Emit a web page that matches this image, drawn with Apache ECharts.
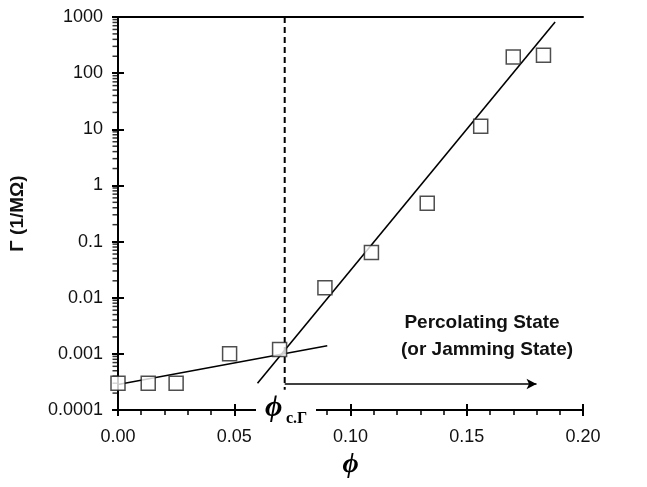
<!DOCTYPE html>
<html>
<head>
<meta charset="utf-8">
<script src="https://cdn.jsdelivr.net/npm/echarts@6/dist/echarts.min.js"></script>
<style>
html, body { margin: 0; background: #fff; }
#chart { width: 647px; height: 487px; }
</style>
</head>
<body>
<div id="chart"></div>
<script>
// measured points (phi, conductance)
const phi = [0, 0.013, 0.025, 0.048, 0.0695, 0.089, 0.109, 0.133, 0.156, 0.170, 0.183];
const gamma = [0.0003, 0.0003, 0.0003, 0.001, 0.0012, 0.015, 0.064, 0.48, 11.3, 193, 209];
// fit lines, end points
const lowFitX = [0, 0.090];
const lowFitY = [0.000285, 0.00139];
const highFitX = [0.060, 0.188];
const highFitY = [0.0003, 813];
// threshold + arrow
const phiC = 0.0717;
const dashY = [1000, 0.00023];
const arrowX = [0.0717, 0.180];
const arrowY = 0.00029;
const yTickLabels = ['0.0001', '0.001', '0.01', '0.1', '1', '10', '100', '1000'];

let chart = echarts.init(document.getElementById('chart'));

// log minor ticks 2..9 per decade
let minorTicks = [];
for (let e = -4; e < 3; e++) {
	for (let k = 2; k <= 9; k++) minorTicks.push([0, k * Math.pow(10, e)]);
}

const pts = phi.map((x, i) => [x, gamma[i]]);
const font = 'Arial, "Liberation Sans", sans-serif';
const serif = '"Times New Roman", "Liberation Serif", "DejaVu Serif", serif';

let option = {
	animation: false,
	grid: { left: 117, right: 64, top: 17, bottom: 77 },
	xAxis: [
		{
			type: 'value', min: 0, max: 0.2, interval: 0.05,
			name: '\u03d5', nameLocation: 'middle', nameGap: 36,
			nameTextStyle: { fontFamily: serif, fontStyle: 'italic', fontWeight: 'bold', fontSize: 28, color: '#000' },
			axisLine: { lineStyle: { color: '#000', width: 2 } },
			axisTick: { show: true, length: 6, lineStyle: { color: '#000', width: 2 } },
			minorTick: { show: true, splitNumber: 5, length: 5, lineStyle: { color: '#000', width: 1.5 } },
			axisLabel: { margin: 18, fontFamily: font, fontSize: 18, color: '#111', formatter: v => v.toFixed(2) },
			splitLine: { show: false }
		},
		{ // inside half of the major ticks
			type: 'value', min: 0, max: 0.2, interval: 0.05, position: 'bottom',
			axisLine: { show: false },
			axisTick: { show: true, inside: true, length: 6, lineStyle: { color: '#000', width: 2 } },
			axisLabel: { show: false }, splitLine: { show: false }
		},
		{ // top frame
			type: 'value', min: 0, max: 0.2, position: 'top',
			axisLine: { lineStyle: { color: '#000', width: 2 } },
			axisTick: { show: false }, axisLabel: { show: false }, splitLine: { show: false }
		}
	],
	yAxis: [
		{
			type: 'log', logBase: 10, min: 0.0001, max: 1000, interval: 1,
			name: 'Γ (1/MΩ)', nameLocation: 'middle', nameGap: 91,
			nameTextStyle: { fontFamily: font, fontWeight: 'bold', fontSize: 19, color: '#111' },
			axisLine: { lineStyle: { color: '#000', width: 2 } },
			axisTick: { show: true, length: 6, lineStyle: { color: '#000', width: 2 } },
			axisLabel: {
				margin: 15, fontFamily: font, fontSize: 18, color: '#111',
				formatter: v => yTickLabels[Math.round(Math.log10(v)) + 4]
			},
			splitLine: { show: false }
		},
		{
			type: 'log', logBase: 10, min: 0.0001, max: 1000, interval: 1, position: 'left',
			axisLine: { show: false },
			axisTick: { show: true, inside: true, length: 6, lineStyle: { color: '#000', width: 2 } },
			axisLabel: { show: false }, splitLine: { show: false }
		},
		{ // right frame
			type: 'log', logBase: 10, min: 0.0001, max: 1000, position: 'right',
			axisLine: { lineStyle: { color: '#000', width: 2 } },
			axisTick: { show: false }, axisLabel: { show: false }, splitLine: { show: false }
		}
	],
	series: [
		{
			type: 'scatter', data: minorTicks, clip: false, silent: true,
			symbol: 'rect', symbolSize: [5, 1.5], symbolOffset: [-3, 0],
			itemStyle: { color: '#000' }, z: 1
		},
		{
			type: 'line', data: lowFitX.map((x, i) => [x, lowFitY[i]]),
			symbol: 'none', lineStyle: { color: '#000', width: 1.6 }, z: 2
		},
		{
			type: 'line', data: highFitX.map((x, i) => [x, highFitY[i]]),
			symbol: 'none', lineStyle: { color: '#000', width: 1.6 }, z: 2
		},
		{
			type: 'line', data: dashY.map(y => [phiC, y]),
			symbol: 'none', lineStyle: { color: '#000', width: 2, type: [6, 4] }, z: 2,
			markLine: {
				silent: true, symbol: ['none', 'arrow'], symbolSize: [8, 10],
				label: { show: false },
				lineStyle: { color: '#000', width: 1.6, type: 'solid' },
				data: [[{ coord: [arrowX[0], arrowY] }, { coord: [arrowX[1], arrowY] }]]
			}
		},
		{
			type: 'scatter', data: pts, symbol: 'rect', symbolSize: 14, clip: false,
			itemStyle: { color: '#fff', borderColor: '#222', borderWidth: 1.5 }, z: 5
		}
	],
	graphic: [
		{ type: 'rect', z: 100, shape: { x: 256, y: 403, width: 60, height: 14 }, style: { fill: '#fff' } },
		{ type: 'text', z: 101, x: 265, y: 423, style: { text: '\u03d5', font: 'italic bold 30px ' + serif, fill: '#000', verticalAlign: 'bottom' } },
		{ type: 'text', z: 101, x: 286, y: 427, style: { text: 'c.Γ', font: 'bold 16px ' + serif, fill: '#000', verticalAlign: 'bottom' } },
		{ type: 'text', z: 101, x: 482, y: 323, style: { text: 'Percolating State', font: 'bold 19px ' + font, fill: '#111', align: 'center', verticalAlign: 'middle' } },
		{ type: 'text', z: 101, x: 487, y: 350, style: { text: '(or Jamming State)', font: 'bold 19px ' + font, fill: '#111', align: 'center', verticalAlign: 'middle' } }
	]
};
chart.setOption(option);
</script>
</body>
</html>
